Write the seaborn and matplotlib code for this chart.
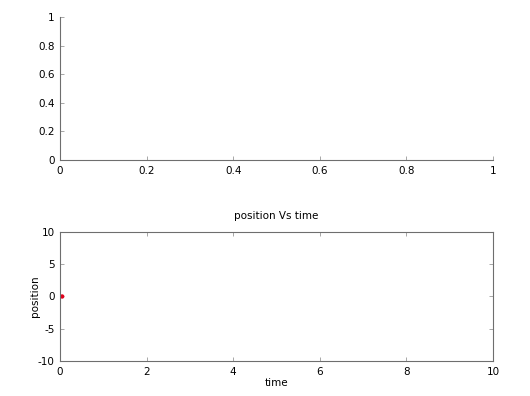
import numpy as np
import pandas as pd
import matplotlib
matplotlib.use("Agg")
import matplotlib.pyplot as plt
import seaborn as sns

# data
time = [0.05]
position = [0.0]

top_xticks = [0, 0.2, 0.4, 0.6, 0.8, 1]
top_yticks = [0, 0.2, 0.4, 0.6, 0.8, 1]
bottom_xticks = [0, 2, 4, 6, 8, 10]
bottom_yticks = [-10, -5, 0, 5, 10]

sns.set_style("ticks")
plt.rcParams["font.family"] = ["DejaVu Sans"]
plt.rcParams["font.size"] = 7.5
plt.rcParams["axes.unicode_minus"] = False
plt.rcParams["text.color"] = "black"
plt.rcParams["axes.labelcolor"] = "black"
plt.rcParams["xtick.labelcolor"] = "black"
plt.rcParams["ytick.labelcolor"] = "black"

spine_col = "#6e6e6e"

fig = plt.figure(figsize=(5.3, 3.96), dpi=100)

# top (empty) axes
ax1 = fig.add_axes([0.1132, 0.596, 0.817, 0.361])
ax1.set_xlim(0, 1)
ax1.set_ylim(0, 1)
ax1.set_xticks(top_xticks)
ax1.set_yticks(top_yticks)
ax1.set_xticklabels(["0", "0.2", "0.4", "0.6", "0.8", "1"])
ax1.set_yticklabels(["0", "0.2", "0.4", "0.6", "0.8", "1"])
sns.despine(ax=ax1)
for s in ["left", "bottom"]:
    ax1.spines[s].set_color(spine_col)
    ax1.spines[s].set_linewidth(0.8)
ax1.tick_params(direction="in", length=3, width=0.6, color="#999999",
                labelsize=7.5, pad=4)

# bottom axes: position vs time
ax2 = fig.add_axes([0.1132, 0.0884, 0.817, 0.3258])
df = pd.DataFrame({"time": time, "position": position})
sns.scatterplot(data=df, x="time", y="position", ax=ax2, color="#e0001b",
                s=10, edgecolor="none")
ax2.set_xlim(0, 10)
ax2.set_ylim(-10, 10)
ax2.set_xticks(bottom_xticks)
ax2.set_yticks(bottom_yticks)
for s in ax2.spines.values():
    s.set_color(spine_col)
    s.set_linewidth(0.8)
ax2.tick_params(direction="in", length=3, width=0.6, color="#999999",
                top=True, right=True, labelsize=7.5, pad=4)
ax2.set_title("position Vs time", fontsize=7.5, pad=9)
ax2.set_xlabel("time", fontsize=7.5, labelpad=1)
ax2.set_ylabel("position", fontsize=7.5, labelpad=-2)

fig.savefig("out.png", dpi=100)
